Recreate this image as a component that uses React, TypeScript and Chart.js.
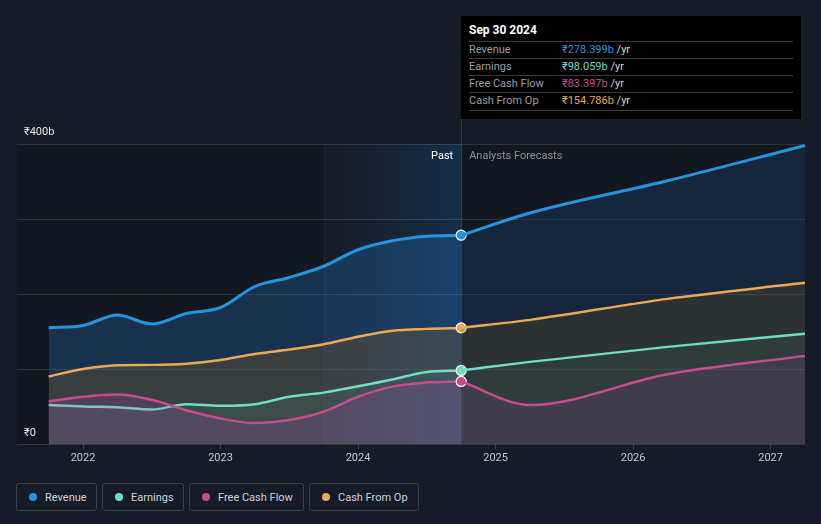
import React, { useEffect, useRef } from "react";
import { Chart, registerables } from "chart.js";

Chart.register(...registerables);

const FONT = "Roboto, 'Noto Sans', 'DejaVu Sans', sans-serif";

// Past (quarterly) data, ₹ billions
const pastYears = [2021.75, 2022.0, 2022.25, 2022.5, 2022.75, 2023.0, 2023.25, 2023.5, 2023.75, 2024.0, 2024.25, 2024.5, 2024.75];
const revenuePast = [155, 158, 172, 160, 174, 182, 210, 222, 237, 259, 271, 277, 278.399];
const earningsPast = [52, 50, 49, 46, 53, 51, 53, 63, 68.5, 77, 86, 96, 98.059];
const fcfPast = [57, 63, 66, 59, 45, 34, 28, 32, 43, 63, 76.5, 82, 83.397];
const cfoPast = [90, 100, 105, 105.5, 107, 112, 120, 126, 133, 143, 151, 153.5, 154.786];

// Analyst forecasts
const forecastYears = [2024.75, 2025.25, 2026.25, 2027.25];
const revenueForecast = [278.399, 308, 351, 398];
const earningsForecast = [98.059, 109.5, 129.5, 147];
const fcfForecast = [83.397, 52, 93, 117.5];
const cfoForecast = [154.786, 165.5, 193.5, 215];

const xTickYears = [2022, 2023, 2024, 2025, 2026, 2027];
const yTickValues = [0, 100, 200, 300, 400];
const yLabelTop = "₹400b";
const yLabelBottom = "₹0";
const xMin = 2021.52;
const xMax = 2027.25;
const highlightStart = 2023.75;
const nowYear = 2024.75;

const tooltipTitle = "Sep 30 2024";
const seriesNames = ["Revenue", "Earnings", "Free Cash Flow", "Cash From Op"];
const seriesValues = ["₹278.399b", "₹98.059b", "₹83.397b", "₹154.786b"];
const seriesColors = ["#2394df", "#6fdcc4", "#c64c8c", "#e9a957"];

const toPts = (xs: number[], ys: number[]) => xs.map((x, i) => ({ x, y: ys[i] }));

export default function App() {
  const ref = useRef<HTMLCanvasElement | null>(null);

  useEffect(() => {
    if (!ref.current) return;
    const lastPast = pastYears.length - 1;

    const mk = (label: string, xs: number[], ys: number[], color: string, fill: string, isPast: boolean, width: number) => ({
      label,
      data: toPts(xs, ys),
      borderColor: color,
      backgroundColor: fill,
      fill: "origin",
      borderWidth: width,
      cubicInterpolationMode: "monotone",
      pointRadius: (c: any) => (isPast && c.dataIndex === lastPast ? 5 : 0),
      pointBackgroundColor: color,
      pointBorderColor: "#ffffff",
      pointBorderWidth: 1.2,
      pointHoverRadius: 0,
      clip: false,
    });

    const bgPlugin = {
      id: "bgPlugin",
      beforeDraw(chart: any) {
        const { ctx, chartArea: a, scales } = chart;
        const x = scales.x;
        ctx.save();
        ctx.fillStyle = "#161c27";
        ctx.fillRect(0, 0, chart.width, chart.height);
        ctx.fillStyle = "#13171f";
        ctx.fillRect(a.left, a.top, a.right - a.left, a.bottom - a.top);
        const x0 = x.getPixelForValue(highlightStart);
        const x1 = x.getPixelForValue(nowYear);
        const g = ctx.createLinearGradient(x0, 0, x1, 0);
        g.addColorStop(0, "rgba(45,70,100,0.12)");
        g.addColorStop(1, "rgba(25,100,170,0.3)");
        ctx.fillStyle = g;
        ctx.fillRect(x0, a.top, x1 - x0, a.bottom - a.top);
        ctx.fillStyle = "rgba(255,255,255,0.04)";
        ctx.fillRect(Math.round(x0), a.top, 1, a.bottom - a.top);
        ctx.restore();
      },
      beforeDatasetsDraw(chart: any) {
        const { ctx, chartArea: a, scales } = chart;
        const xn = Math.round(scales.x.getPixelForValue(nowYear)) + 0.5;
        ctx.save();
        ctx.strokeStyle = "rgba(40,120,200,0.4)";
        ctx.lineWidth = 1;
        ctx.beginPath();
        ctx.moveTo(xn, 16);
        ctx.lineTo(xn, a.bottom);
        ctx.stroke();
        ctx.restore();
      },
      afterDraw(chart: any) {
        const { ctx, chartArea: a, scales } = chart;
        const y = scales.y;
        const xn = scales.x.getPixelForValue(nowYear);
        ctx.save();
        ctx.font = `11px ${FONT}`;
        ctx.textBaseline = "middle";
        ctx.fillStyle = "#e4e6e9";
        ctx.textAlign = "left";
        ctx.fillText(yLabelTop, a.left + 7, y.getPixelForValue(400) - 12);
        ctx.fillText(yLabelBottom, a.left + 7, y.getPixelForValue(0) - 11);
        ctx.fillStyle = "#ffffff";
        ctx.textAlign = "right";
        ctx.fillText("Past", xn - 8, y.getPixelForValue(400) + 12);
        ctx.fillStyle = "#8b9097";
        ctx.textAlign = "left";
        ctx.fillText("Analysts Forecasts", xn + 8, y.getPixelForValue(400) + 12);
        ctx.restore();
      },
    };

    const chart = new Chart(ref.current, {
      type: "line",
      data: {
        datasets: [
          mk("Free Cash Flow", forecastYears, fcfForecast, seriesColors[2], "rgba(190,80,200,0.11)", false, 2.5),
          mk("Free Cash Flow", pastYears, fcfPast, seriesColors[2], "rgba(190,80,200,0.17)", true, 2.5),
          mk("Earnings", forecastYears, earningsForecast, seriesColors[1], "rgba(112,224,200,0.06)", false, 2.5),
          mk("Earnings", pastYears, earningsPast, seriesColors[1], "rgba(112,224,200,0.08)", true, 2.5),
          mk("Cash From Op", forecastYears, cfoForecast, seriesColors[3], "rgba(110,82,25,0.25)", false, 2.5),
          mk("Cash From Op", pastYears, cfoPast, seriesColors[3], "rgba(137,93,38,0.3)", true, 2.5),
          mk("Revenue", forecastYears, revenueForecast, seriesColors[0], "rgba(40,110,200,0.17)", false, 3),
          mk("Revenue", pastYears, revenuePast, seriesColors[0], "rgba(40,130,220,0.25)", true, 3),
        ] as any,
      },
      options: {
        responsive: false,
        animation: false,
        devicePixelRatio: 1,
        layout: { padding: { left: 17, right: 16, top: 144, bottom: 0 } },
        plugins: { legend: { display: false }, tooltip: { enabled: false } },
        events: [],
        scales: {
          x: {
            type: "linear",
            min: xMin,
            max: xMax,
            afterBuildTicks: (s: any) => {
              s.ticks = xTickYears.map((v) => ({ value: v }));
            },
            afterFit: (s: any) => {
              s.height = 26;
            },
            ticks: {
              color: "#c3c7cd",
              font: { family: FONT, size: 11 },
              padding: 3,
              maxRotation: 0,
              callback: (v: any) => String(v),
            },
            grid: { display: true, drawOnChartArea: false, drawTicks: true, tickLength: 5, color: "#3a3f48" },
            border: { display: false },
          },
          y: {
            type: "linear",
            min: 0,
            max: 400,
            afterBuildTicks: (s: any) => {
              s.ticks = yTickValues.map((v) => ({ value: v }));
            },
            afterFit: (s: any) => {
              s.width = 0;
            },
            ticks: { display: false },
            grid: { color: "rgba(255,255,255,0.12)", drawTicks: false },
            border: { display: false },
          },
        },
      } as any,
      plugins: [bgPlugin],
    });
    return () => chart.destroy();
  }, []);

  const legendWidths = [81, 82, 115, 110];
  const rowTops = [26.5, 43.5, 61, 78];
  const sepTops = [25, 42, 59, 76, 94];

  return (
    <div style={{ position: "absolute", left: 0, top: 0, width: 821, height: 524, background: "#161c27", fontFamily: FONT, overflow: "hidden" }}>
      <canvas ref={ref} width={821} height={470} style={{ position: "absolute", left: 0, top: 0, width: 821, height: 470 }} />
      <div style={{ position: "absolute", left: 461, top: 16, width: 340, height: 103, background: "#000000" }}>
        <div style={{ position: "absolute", left: 8, top: 7, lineHeight: "14px", fontSize: 12, fontWeight: 700, color: "#ffffff" }}>{tooltipTitle}</div>
        {sepTops.map((t, i) => (
          <div key={"s" + i} style={{ position: "absolute", left: 8, top: t, width: 324, height: 1, background: "#3a3b3e" }} />
        ))}
        {seriesNames.map((n, i) => (
          <React.Fragment key={n}>
            <div style={{ position: "absolute", left: 8, top: rowTops[i], lineHeight: "14px", fontSize: 11, color: "#9b9ea3" }}>{n}</div>
            <div style={{ position: "absolute", left: 101, top: rowTops[i], lineHeight: "14px", fontSize: 11, color: "#d6d8db", whiteSpace: "nowrap" }}>
              <span style={{ color: seriesColors[i] }}>{seriesValues[i]}</span> /yr
            </div>
          </React.Fragment>
        ))}
      </div>
      <div style={{ position: "absolute", left: 16, top: 483, display: "flex", gap: 5 }}>
        {seriesNames.map((n, i) => (
          <div
            key={n}
            style={{
              width: legendWidths[i],
              height: 28,
              boxSizing: "border-box",
              border: "1px solid #3b404a",
              borderRadius: 3,
              display: "flex",
              alignItems: "center",
              paddingLeft: 12,
            }}
          >
            <span style={{ width: 8, height: 8, borderRadius: 4, background: seriesColors[i], display: "inline-block" }} />
            <span style={{ marginLeft: 8, fontSize: 11, color: "#cfd2d6", whiteSpace: "nowrap" }}>{n}</span>
          </div>
        ))}
      </div>
    </div>
  );
}
